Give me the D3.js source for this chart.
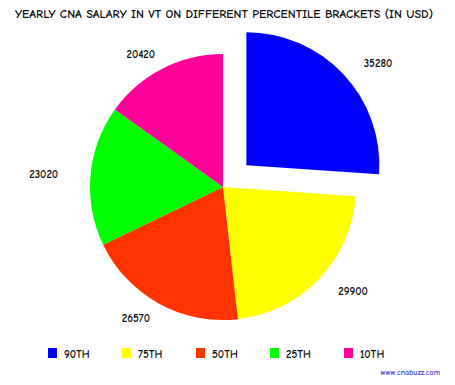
<!DOCTYPE html>
<html><head><meta charset="utf-8">
<script src="https://cdn.jsdelivr.net/npm/d3@7"></script>
<style>
html,body{margin:0;padding:0;background:#fff;}
text{font-family:"Comic Sans MS","Comic Neue","DejaVu Sans",sans-serif;}
</style></head>
<body>
<svg id="c" width="455" height="385"></svg>
<script>
const categories = ["90th","75th","50th","25th","10th"];
const values = [35280, 29900, 26570, 23020, 20420];
const colors = ["#0000ff","#ffff00","#ff3300","#00ff00","#ff0099"];
const exploded = [true,false,false,false,false];
const title = "Yearly CNA Salary in VT on Different Percentile Brackets (in USD)";

const svg = d3.select("#c");
const cx = 223, cy = 187, r = 133, explode = 32, labelRx = 180, labelRy = 150;

svg.append("text").attr("x", 224).attr("y", 18).attr("text-anchor","middle")
  .attr("font-size", 11).attr("font-weight","bold").attr("textLength", 418).attr("lengthAdjust","spacingAndGlyphs")
  .attr("fill","#111").text(title.toUpperCase());

const data = categories.map((c,i)=>({cat:c, value:values[i], color:colors[i], ex:exploded[i]}));
const pie = d3.pie().sort(null).value(d=>d.value);
const arc = d3.arc().innerRadius(0).outerRadius(r);
const arcs = pie(data);

const g = svg.append("g").attr("transform",`translate(${cx},${cy})`);
arcs.forEach(a=>{
  const mid = (a.startAngle + a.endAngle)/2;
  const off = a.data.ex ? explode : 0;
  const dx = Math.sin(mid)*off, dy = -Math.cos(mid)*off;
  g.append("path").attr("transform",`translate(${dx},${dy})`).attr("d", arc(a)).attr("fill", a.data.color);
  g.append("text")
    .attr("x", dx + Math.sin(mid)*labelRx).attr("y", dy - Math.cos(mid)*labelRy + 4)
    .attr("text-anchor","middle").attr("font-size", 11).attr("font-weight","bold").attr("fill","#111")
    .text(a.data.value);
});

const legend = svg.append("g");
const lx = d3.scalePoint().domain(categories).range([48, 344]);
categories.forEach((c,i)=>{
  const x = lx(c);
  legend.append("rect").attr("x", x).attr("y", 348).attr("width", 9).attr("height", 10).attr("fill", colors[i]);
  legend.append("text").attr("x", x+16).attr("y", 358).attr("font-size", 11).attr("font-weight","bold").attr("fill","#111").text(c.toUpperCase());
});

svg.append("text").attr("x", 440).attr("y", 375).attr("text-anchor","end")
  .attr("font-size", 8).attr("font-weight","bold").attr("fill","#4a4ac8").text("www.cnabuzz.com");
</script>
</body></html>
